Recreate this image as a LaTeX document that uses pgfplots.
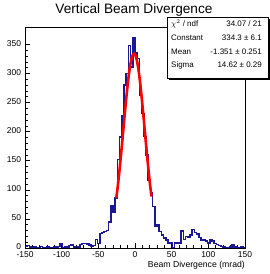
\documentclass[border=0pt]{standalone}
\usepackage{pgfplots}
\pgfplotsset{compat=1.18}
\usepackage{fontspec}
\setmainfont{Liberation Sans}
\definecolor{histblue}{RGB}{25,25,150}
\begin{document}
\begin{tikzpicture}[x=1bp,y=1bp]
\useasboundingbox (0,0) rectangle (270,274);
\begin{axis}[
  at={(25bp,26bp)}, anchor=south west,
  scale only axis, width=220bp, height=221bp,
  xmin=-150, xmax=150, ymin=0, ymax=380,
  xtick={-150,-100,...,150}, ytick={0,50,...,350},
  minor x tick num=4, minor y tick num=4,
  tick align=inside, tick pos=left,
  major tick length=5bp, minor tick length=2.5bp,
  axis line style={line width=0.8bp},
  every tick/.style={black, line width=0.6bp},
  tick label style={font=\fontsize{8.5}{9}\selectfont},
  xticklabel style={yshift=-0.3bp},
  yticklabel style={xshift=-0.5bp, yshift=1bp},
  /pgf/number format/assume math mode=true,
  /pgf/number format/1000 sep={},
]
\addplot[histblue, line width=1.5bp, const plot] coordinates {
(-150,3) (-147,4) (-144,2) (-141,1) (-138,2) (-135,0) (-132,1) (-129,3) (-126,1) (-123,0)
(-120,2) (-117,1) (-114,0) (-111,2) (-108,1) (-105,3) (-102,7) (-99,1) (-96,2) (-93,0)
(-90,4) (-87,5) (-84,2) (-81,3) (-78,1) (-75,6) (-72,8) (-69,8) (-66,7) (-63,5)
(-60,3) (-57,4) (-54,15) (-51,8) (-48,25) (-45,27) (-42,28) (-39,30) (-36,45) (-33,72)
(-30,62) (-27,86) (-24,152) (-21,191) (-18,228) (-15,280) (-12,300) (-9,348) (-6,311) (-3,362)
(0,335) (3,326) (6,262) (9,231) (12,192) (15,160) (18,117) (21,95) (24,71) (27,37)
(30,40) (33,28) (36,22) (39,17) (42,14) (45,9) (48,9) (51,1) (54,9) (57,8)
(60,9) (63,29) (66,15) (69,20) (72,19) (75,22) (78,32) (81,27) (84,24) (87,18)
(90,13) (93,14) (96,12) (99,9) (102,15) (105,12) (108,8) (111,6) (114,4) (117,3)
(120,2) (123,1) (126,0) (129,2) (132,5) (135,2) (138,1) (141,0) (144,2) (147,1) (150,1)
};
\addplot[red, line width=2.6bp, smooth] coordinates {
(-25.5,85.4) (-24,100.7) (-22.5,117.4) (-21,135.5) (-19.5,154.7) (-18,174.8) (-16.5,195.4)
(-15,216.2) (-13.5,236.7) (-12,256.4) (-10.5,274.9) (-9,291.5) (-7.5,306.0) (-6,317.8)
(-4.5,326.6) (-3,332.2) (-1.5,334.3) (0,332.9) (1.5,328.0) (3,319.8) (4.5,308.6) (6,294.6)
(7.5,278.3) (9,260.2) (10.5,240.7) (12,220.3) (13.5,199.6) (15,178.9) (16.5,158.6)
(18,139.2) (19.5,120.9) (21,103.9) (22.5,88.4)
};
\end{axis}
\node[anchor=base, font=\fontsize{13.7}{15}\selectfont, inner sep=0] at (134,261) {Vertical Beam Divergence};
\node[anchor=base east, font=\fontsize{8.7}{10}\selectfont, inner sep=0] at (245,7) {Beam Divergence (mrad)};
\fill[black] (169,194) rectangle (270,255);
\filldraw[fill=white, draw=black, line width=0.8bp] (167,196) rectangle (268,257);
\begin{scope}[every node/.style={font=\fontsize{8}{9}\selectfont, inner sep=0}]
\node[anchor=west] at (171,250) {$\chi^{2}$ / ndf};
\node[anchor=west] at (171,236) {Constant};
\node[anchor=west] at (171,222.5) {Mean};
\node[anchor=west] at (171,209) {Sigma};
\node[anchor=east] at (262,250) {34.07 / 21};
\node[anchor=east] at (262,236) {334.3 ± 6.1};
\node[anchor=east] at (262,222.5) {-1.351 ± 0.251};
\node[anchor=east] at (262,209) {14.62 ± 0.29};
\end{scope}
\end{tikzpicture}
\end{document}
